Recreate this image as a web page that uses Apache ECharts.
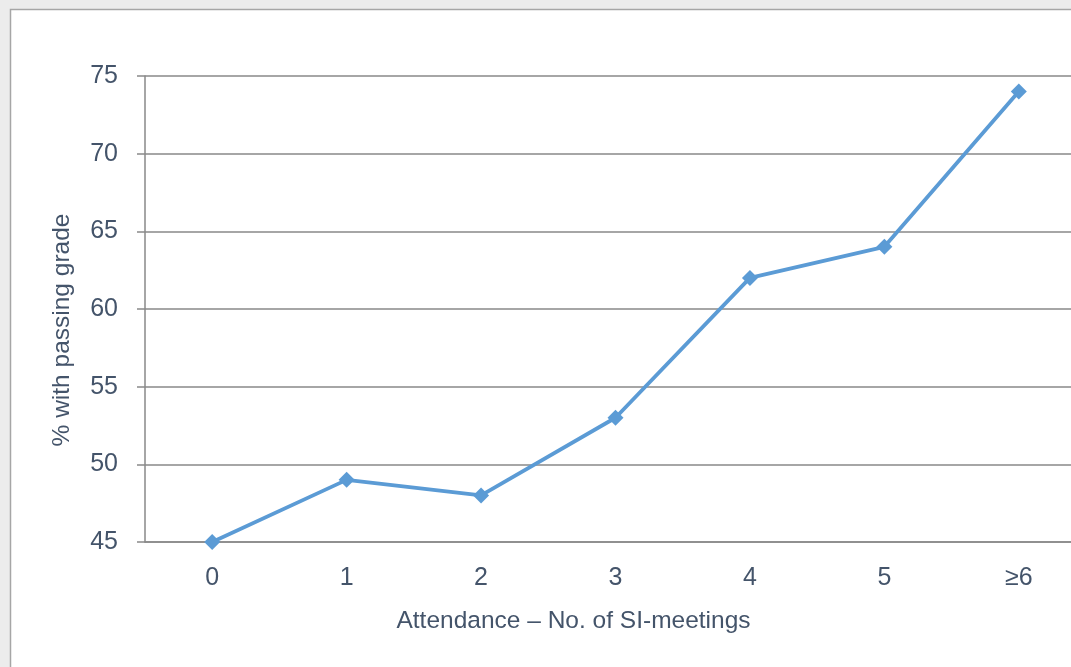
<!DOCTYPE html>
<html><head><meta charset="utf-8">
<script src="https://cdn.jsdelivr.net/npm/echarts@6/dist/echarts.min.js"></script>
<style>html,body{margin:0;padding:0;background:#ececec;overflow:hidden}#c{width:1100px;height:667px}</style>
</head><body><div id="c"></div>
<script>
const categories = ['0','1','2','3','4','5','≥6'];
const passRate = [45, 49, 48, 53, 62, 64, 74];
const yTicks = {min: 45, max: 75, interval: 5};
const xTitle = 'Attendance – No. of SI-meetings';
const yTitle = '% with passing grade';

const FONT = "'Liberation Sans', sans-serif";
const TXT = '#44546a';
const chart = echarts.init(document.getElementById('c'));
chart.setOption({
  backgroundColor: '#ececec',
  animation: false,
  graphic: [{type:'rect', z:-10, shape:{x:10.5,y:9.5,width:1200,height:800}, style:{fill:'#fff', stroke:'#a6a6a6', lineWidth:1.5}}],
  grid: {left: 145, right: 14, top: 76, bottom: 125, containLabel: false},
  xAxis: {
    type: 'category', data: categories, boundaryGap: true,
    name: xTitle, nameLocation: 'middle', nameGap: 67,
    nameTextStyle: {color: TXT, fontSize: 24.5, fontFamily: FONT, padding: [0, 84, 0, 0]},
    axisLine: {lineStyle: {color: '#898989', width: 1.5}},
    axisTick: {length: 8, lineStyle: {color: '#898989', width: 1.5}},
    axisLabel: {color: TXT, fontSize: 25, fontFamily: FONT, margin: 24}
  },
  yAxis: {
    type: 'value', min: yTicks.min, max: yTicks.max, interval: yTicks.interval,
    name: yTitle, nameLocation: 'middle', nameGap: 70, nameRotate: 90,
    nameTextStyle: {color: TXT, fontSize: 24.5, fontFamily: FONT, padding: [0, 42, 0, 0]},
    axisLine: {show: true, lineStyle: {color: '#898989', width: 1.5}},
    axisTick: {show: true, length: 8, lineStyle: {color: '#898989', width: 1.5}},
    splitLine: {lineStyle: {color: '#898989', width: 1.5}},
    axisLabel: {color: TXT, fontSize: 25, fontFamily: FONT, margin: 27}
  },
  series: [{
    type: 'line', data: passRate,
    symbol: 'diamond', symbolSize: 16,
    lineStyle: {color: '#5b9bd5', width: 3.8},
    itemStyle: {color: '#5b9bd5'}
  }]
});
</script></body></html>
